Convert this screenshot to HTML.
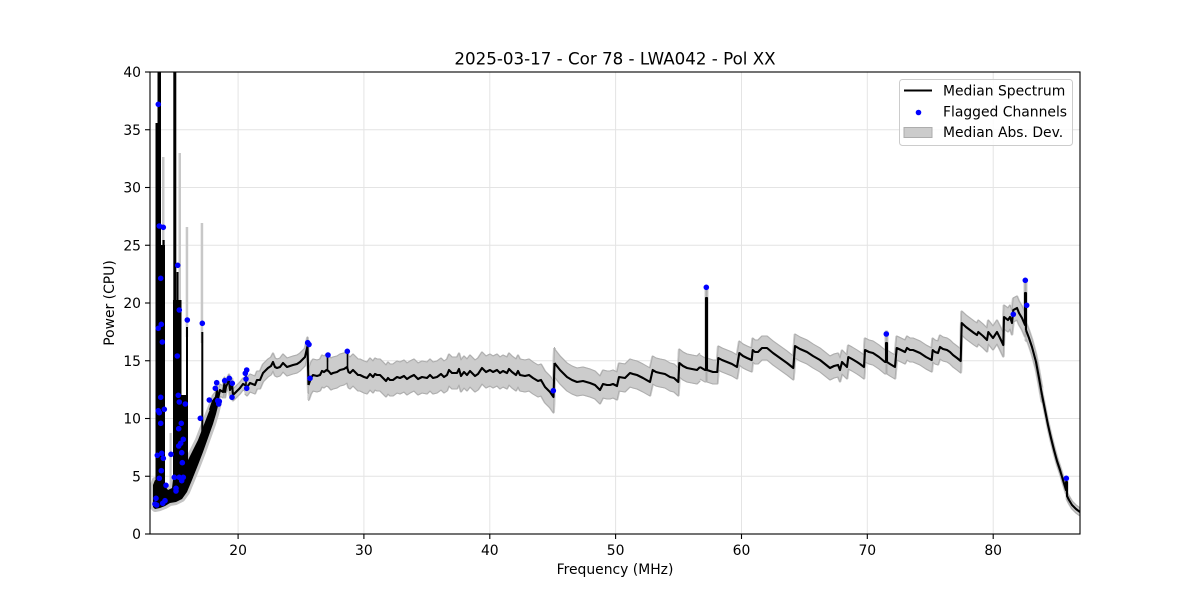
<!DOCTYPE html>
<html><head><meta charset="utf-8"><style>
html,body{margin:0;padding:0;background:#fff;}
svg{display:block;font-family:"DejaVu Sans","Liberation Sans",sans-serif;}
</style></head><body>
<svg width="1200" height="600" viewBox="0 0 1200 600" xmlns="http://www.w3.org/2000/svg">
<defs>
<clipPath id="cp"><rect x="150" y="72" width="930" height="462"/></clipPath>
<polyline id="s1" points="210,410 213,401 216,397 217,390 218,399 220,390 223,392 224.5,383 225,392 226,387 229,380 230,390 232,384 233,395 236,392 240,388 243,384 245,385"/>
<polyline id="s2" points="245,385 247,387 250,383 255,385 257,380 260,380 263,373 266,370 268,368 271,366 273,362 275,367 277,368 280,367 283,363 287,367 290,366 293,365 297,364 300,362 303,359 305,357 307.5,346 308.5,385"/>
<polyline id="s3" points="308.5,385 311,378 313,375 317,376 320,375 322,371 324,372 326.5,370 328.5,371 331,374 333,373 337,372 340,370 344,369 347,367 348.5,372 350,373 353,370 355,372 358,375 360,375 364,377 367,378 370,374 373,377 375,374 377,375 380,375 383,378 386,381 388,378 390,380 393,380 397,377 400,378 404,376 407,379 410,377 414,375 418,379 422,377 427,378 430,375 433,378 437,377 441,374 444,377 447,375 449,370 452,373 457,373 459,369 461,376 464,372 467,375 470,371 472,373 475,376 478,374 482,368 486,372 490,370 493,372 497,370 500,373 503,371 507,373 509,369 512,372 516,375 518,371 520,375 525,376 529,375 533,378 538,381 541,380 545,387 550,392 553.5,397 554.5,363"/>
<polyline id="s4" points="554.5,363 560,370 567,377 572,380 577,382 583,381 590,383 595,385 600,390 603,384 607,385 610,385 613,384 617,386 619,377 625,378 630,373 633,374 637,375 643,378 650,382 652.7,370 656,372 660,373 665,374 670,377 674,378 678.3,382 679.3,363 683,366 687,368 692,369 697,370 700,367"/>
<polyline id="s5" points="700,367 705,370 706,370 706,298 707,298 707,370 710,371 713,372 717.3,372 718.3,358 722,360 727,362 732,364 737,367 739.3,353 743,356 747,358 751.7,360 752.7,350 755,352 758,352 762,348 767,348 773,353 780,358 787,363 793.3,368 795,346 800,349 807,352 813,356 820,360 825,364 830,368 834,366 838,365 840,370 842,362 847,367 848.3,357 852,359 857,362 860,364 864,367 865,350 869,352 873,353 879,357 885,362 886,362 886,343 887,343 887,362 890,364 895,367 896.7,348 901,350 905,352 907,348 910,350 913,350 920,353 926,357 931.7,360 932.7,350 935,352 938,353 940,347 943,349 947,350 950,352 953,355 957,358 960.7,361 961.7,323 966,327 970,330 974,333 977,335 978.3,332 983,336 987,340 988.3,332 993,338 995,335 997,332 1000,338 1003.3,345 1004,317 1008,320 1010,317 1012,323 1013.3,310 1017,308 1019,313 1022,318 1025,325 1025,293 1026,293 1026,330"/>
<polyline id="s6" points="1026,330 1029,338 1032,347 1036,362 1039,378 1042,395"/>
<polyline id="s7" points="1042,395 1045,410 1048,425 1051,438 1054,450 1057,461 1060,470 1063,480 1066,490 1066,482 1067,482 1067,496 1069,500 1072,505 1076,509 1080,512"/>
</defs>

<!-- grid -->
<g stroke="#e4e4e4" stroke-width="1">
<line x1="238.1" y1="72" x2="238.1" y2="534"/>
<line x1="363.9" y1="72" x2="363.9" y2="534"/>
<line x1="489.8" y1="72" x2="489.8" y2="534"/>
<line x1="615.6" y1="72" x2="615.6" y2="534"/>
<line x1="741.5" y1="72" x2="741.5" y2="534"/>
<line x1="867.3" y1="72" x2="867.3" y2="534"/>
<line x1="993.2" y1="72" x2="993.2" y2="534"/>
<line x1="150" y1="476.25" x2="1080" y2="476.25"/>
<line x1="150" y1="418.5" x2="1080" y2="418.5"/>
<line x1="150" y1="360.75" x2="1080" y2="360.75"/>
<line x1="150" y1="303" x2="1080" y2="303"/>
<line x1="150" y1="245.25" x2="1080" y2="245.25"/>
<line x1="150" y1="187.5" x2="1080" y2="187.5"/>
<line x1="150" y1="129.75" x2="1080" y2="129.75"/>
</g>

<g clip-path="url(#cp)">
<!-- band fill -->
<g fill="none" stroke="#cccccc" stroke-width="3" stroke-linejoin="round">
<use href="#s1" transform="translate(0,-5)"/><use href="#s1" transform="translate(0,-3)"/><use href="#s1" transform="translate(0,-1)"/><use href="#s1" transform="translate(0,1)"/><use href="#s1" transform="translate(0,3)"/><use href="#s1" transform="translate(0,5)"/>
<use href="#s2" transform="translate(0,-8)"/><use href="#s2" transform="translate(0,-6)"/><use href="#s2" transform="translate(0,-4)"/><use href="#s2" transform="translate(0,-2)"/><use href="#s2"/><use href="#s2" transform="translate(0,2)"/><use href="#s2" transform="translate(0,4)"/><use href="#s2" transform="translate(0,6)"/><use href="#s2" transform="translate(0,8)"/>
<use href="#s3" transform="translate(0,-15)"/><use href="#s3" transform="translate(0,-13)"/><use href="#s3" transform="translate(0,-11)"/><use href="#s3" transform="translate(0,-9)"/><use href="#s3" transform="translate(0,-7)"/><use href="#s3" transform="translate(0,-5)"/><use href="#s3" transform="translate(0,-3)"/><use href="#s3" transform="translate(0,-1)"/><use href="#s3" transform="translate(0,1)"/><use href="#s3" transform="translate(0,3)"/><use href="#s3" transform="translate(0,5)"/><use href="#s3" transform="translate(0,7)"/><use href="#s3" transform="translate(0,9)"/><use href="#s3" transform="translate(0,11)"/><use href="#s3" transform="translate(0,13)"/><use href="#s3" transform="translate(0,15)"/>
<use href="#s4" transform="translate(0,-13)"/><use href="#s4" transform="translate(0,-11)"/><use href="#s4" transform="translate(0,-9)"/><use href="#s4" transform="translate(0,-7)"/><use href="#s4" transform="translate(0,-5)"/><use href="#s4" transform="translate(0,-3)"/><use href="#s4" transform="translate(0,-1)"/><use href="#s4" transform="translate(0,1)"/><use href="#s4" transform="translate(0,3)"/><use href="#s4" transform="translate(0,5)"/><use href="#s4" transform="translate(0,7)"/><use href="#s4" transform="translate(0,9)"/><use href="#s4" transform="translate(0,11)"/><use href="#s4" transform="translate(0,13)"/>
<use href="#s5" transform="translate(0,-11)"/><use href="#s5" transform="translate(0,-9)"/><use href="#s5" transform="translate(0,-7)"/><use href="#s5" transform="translate(0,-5)"/><use href="#s5" transform="translate(0,-3)"/><use href="#s5" transform="translate(0,-1)"/><use href="#s5" transform="translate(0,1)"/><use href="#s5" transform="translate(0,3)"/><use href="#s5" transform="translate(0,5)"/><use href="#s5" transform="translate(0,7)"/><use href="#s5" transform="translate(0,9)"/><use href="#s5" transform="translate(0,11)"/>
<use href="#s6" transform="translate(0,-7)"/><use href="#s6" transform="translate(0,-5)"/><use href="#s6" transform="translate(0,-3)"/><use href="#s6" transform="translate(0,-1)"/><use href="#s6" transform="translate(0,1)"/><use href="#s6" transform="translate(0,3)"/><use href="#s6" transform="translate(0,5)"/><use href="#s6" transform="translate(0,7)"/>
<use href="#s7" transform="translate(0,-3)"/><use href="#s7" transform="translate(0,-1)"/><use href="#s7" transform="translate(0,1)"/><use href="#s7" transform="translate(0,3)"/>
</g>
<!-- band edges -->
<g fill="none" stroke="#adadad" stroke-width="1" stroke-linejoin="round">
<use href="#s1" transform="translate(0,-6)"/><use href="#s1" transform="translate(0,6)"/>
<use href="#s2" transform="translate(0,-9)"/><use href="#s2" transform="translate(0,9)"/>
<use href="#s3" transform="translate(0,-16)"/><use href="#s3" transform="translate(0,16)"/>
<use href="#s4" transform="translate(0,-14)"/><use href="#s4" transform="translate(0,14)"/>
<use href="#s5" transform="translate(0,-12)"/><use href="#s5" transform="translate(0,12)"/>
<use href="#s6" transform="translate(0,-8)"/><use href="#s6" transform="translate(0,8)"/>
<use href="#s7" transform="translate(0,-4)"/><use href="#s7" transform="translate(0,4)"/>
</g>

<!-- small spikes grey -->
<g stroke="#c4c4c4" stroke-width="3">
<line x1="246" y1="368" x2="246" y2="386"/>
<line x1="327.5" y1="353" x2="327.5" y2="362"/>
<line x1="347.5" y1="349" x2="347.5" y2="360"/>
</g>

<!-- left region: grey spikes -->
<g fill="#c8c8c8">
<rect x="162" y="157" width="2.5" height="100"/>
<rect x="178.5" y="153" width="2.5" height="180"/>
<rect x="169.5" y="433" width="2.2" height="60"/>
<rect x="185.7" y="227" width="2.5" height="110"/>
<rect x="200.7" y="223" width="2.5" height="120"/>
</g>
<polygon points="153,507 153,485 155,480 165,486 168,490 172,488 173,480 187,462 192,452 198,440 203,427 208,414 212,404 215,398 219,402 216,414 213,424 208,438 203,452 198,465 192,480 187,492 182,499 176,502 170,503 165,506 160,508 155,509" fill="#c4c4c4" stroke="#c4c4c4" stroke-width="6" stroke-linejoin="round"/>
<polygon points="153,507 153,485 155,480 165,486 168,490 172,488 173,480 187,462 192,452 198,440 203,427 208,414 212,404 215,398 219,402 216,414 213,424 208,438 203,452 198,465 192,480 187,492 182,499 176,502 170,503 165,506 160,508 155,509" fill="#000"/>
<g fill="#000">
<rect x="157.5" y="60" width="3.5" height="445"/>
<rect x="155.5" y="123" width="2" height="382"/>
<rect x="155.5" y="245" width="9.5" height="260"/>
<rect x="162.5" y="240" width="2.2" height="265"/>
<rect x="173.3" y="60" width="3" height="437"/>
<rect x="173" y="300" width="8.5" height="195"/>
<rect x="176.5" y="272" width="2" height="220"/>
<rect x="178.8" y="300" width="2" height="190"/>
<rect x="181" y="395" width="6" height="95"/>
<rect x="186" y="327" width="2" height="150"/>
<rect x="201.3" y="332" width="2" height="110"/>
</g>

<!-- median line -->
<g fill="none" stroke="#000" stroke-width="2.1" stroke-linejoin="round">
<use href="#s1"/><use href="#s2"/><use href="#s3"/><use href="#s4"/><use href="#s5"/><use href="#s6"/><use href="#s7"/>
</g>
<g stroke="#000" stroke-width="1.6">
<line x1="246" y1="372" x2="246" y2="386"/>
<line x1="327.5" y1="357" x2="327.5" y2="371"/>
<line x1="347.5" y1="353" x2="347.5" y2="368"/>
</g>

<!-- flagged channels -->
<g fill="#0000ff">
<circle cx="158.3" cy="104.3" r="2.8"/><circle cx="159.3" cy="226" r="2.8"/><circle cx="163.3" cy="227.3" r="2.8"/><circle cx="160.7" cy="278.3" r="2.8"/><circle cx="158.3" cy="328.3" r="2.8"/><circle cx="161.3" cy="324.3" r="2.8"/><circle cx="162.3" cy="342" r="2.8"/><circle cx="160.7" cy="397.3" r="2.8"/><circle cx="158.3" cy="410.7" r="2.8"/><circle cx="159.3" cy="412.7" r="2.8"/><circle cx="164.3" cy="409.3" r="2.8"/><circle cx="160.7" cy="423.3" r="2.8"/><circle cx="157.3" cy="455.3" r="2.8"/><circle cx="161.7" cy="453.3" r="2.8"/><circle cx="163.3" cy="458.3" r="2.8"/><circle cx="161.3" cy="470.7" r="2.8"/><circle cx="159.3" cy="478.3" r="2.8"/><circle cx="166" cy="485.3" r="2.8"/><circle cx="156" cy="498.3" r="2.8"/><circle cx="155" cy="504" r="2.8"/><circle cx="156.7" cy="505" r="2.8"/><circle cx="162.7" cy="503.3" r="2.8"/><circle cx="165" cy="500.7" r="2.8"/><circle cx="171" cy="454.3" r="2.8"/><circle cx="174.3" cy="477.3" r="2.8"/><circle cx="176" cy="488.3" r="2.8"/><circle cx="176" cy="491" r="2.8"/><circle cx="177.7" cy="265.3" r="2.8"/><circle cx="179.3" cy="310" r="2.8"/><circle cx="187.3" cy="320" r="2.8"/><circle cx="177.3" cy="356" r="2.8"/><circle cx="178.3" cy="395.3" r="2.8"/><circle cx="179.3" cy="402" r="2.8"/><circle cx="185.3" cy="404" r="2.8"/><circle cx="181.3" cy="423.3" r="2.8"/><circle cx="178.7" cy="428.7" r="2.8"/><circle cx="183.3" cy="439.3" r="2.8"/><circle cx="178.7" cy="446" r="2.8"/><circle cx="180.7" cy="443.3" r="2.8"/><circle cx="181.7" cy="452.7" r="2.8"/><circle cx="182.3" cy="462.7" r="2.8"/><circle cx="179.3" cy="477.3" r="2.8"/><circle cx="181.7" cy="480.7" r="2.8"/><circle cx="183.3" cy="477.3" r="2.8"/><circle cx="202.3" cy="323.3" r="2.8"/><circle cx="200.3" cy="418.3" r="2.8"/><circle cx="209.3" cy="400" r="2.8"/><circle cx="215.3" cy="388.3" r="2.8"/><circle cx="216.7" cy="382.7" r="2.8"/><circle cx="217.7" cy="400.7" r="2.8"/><circle cx="219.3" cy="401.3" r="2.8"/><circle cx="218.7" cy="404" r="2.8"/><circle cx="224.7" cy="380.7" r="2.8"/><circle cx="229.3" cy="378.3" r="2.8"/><circle cx="232.3" cy="383.3" r="2.8"/><circle cx="232" cy="397.3" r="2.8"/><circle cx="246.7" cy="370" r="2.8"/><circle cx="245.3" cy="373.3" r="2.8"/><circle cx="246" cy="379" r="2.8"/><circle cx="246.7" cy="388.3" r="2.8"/><circle cx="307.7" cy="342.7" r="2.8"/><circle cx="309" cy="344.5" r="2.8"/><circle cx="310" cy="378.3" r="2.8"/><circle cx="328" cy="355" r="2.8"/><circle cx="347.3" cy="351.3" r="2.8"/><circle cx="553.3" cy="390.7" r="2.8"/><circle cx="706.3" cy="287.3" r="2.8"/><circle cx="886.3" cy="334" r="2.8"/><circle cx="1013.3" cy="314.3" r="2.8"/><circle cx="1025.3" cy="280.3" r="2.8"/><circle cx="1026.7" cy="305.3" r="2.8"/><circle cx="1066.3" cy="478.3" r="2.8"/>
</g>
</g>

<!-- axes box -->
<rect x="150" y="72" width="930" height="462" fill="none" stroke="#000" stroke-width="1.1"/>

<!-- ticks -->
<g stroke="#000" stroke-width="1.1">
<line x1="238.1" y1="534" x2="238.1" y2="539"/><line x1="363.9" y1="534" x2="363.9" y2="539"/><line x1="489.8" y1="534" x2="489.8" y2="539"/><line x1="615.6" y1="534" x2="615.6" y2="539"/><line x1="741.5" y1="534" x2="741.5" y2="539"/><line x1="867.3" y1="534" x2="867.3" y2="539"/><line x1="993.2" y1="534" x2="993.2" y2="539"/>
<line x1="145" y1="534" x2="150" y2="534"/><line x1="145" y1="476.25" x2="150" y2="476.25"/><line x1="145" y1="418.5" x2="150" y2="418.5"/><line x1="145" y1="360.75" x2="150" y2="360.75"/><line x1="145" y1="303" x2="150" y2="303"/><line x1="145" y1="245.25" x2="150" y2="245.25"/><line x1="145" y1="187.5" x2="150" y2="187.5"/><line x1="145" y1="129.75" x2="150" y2="129.75"/><line x1="145" y1="72" x2="150" y2="72"/>
</g>

<g font-size="13.9" fill="#000">
<g text-anchor="middle">
<text x="238.1" y="555">20</text><text x="363.9" y="555">30</text><text x="489.8" y="555">40</text><text x="615.6" y="555">50</text><text x="741.5" y="555">60</text><text x="867.3" y="555">70</text><text x="993.2" y="555">80</text>
</g>
<g text-anchor="end">
<text x="141" y="539">0</text><text x="141" y="481.25">5</text><text x="141" y="423.5">10</text><text x="141" y="365.75">15</text><text x="141" y="308">20</text><text x="141" y="250.25">25</text><text x="141" y="192.5">30</text><text x="141" y="134.75">35</text><text x="141" y="77">40</text>
</g>
<text x="615" y="574" text-anchor="middle">Frequency (MHz)</text>
<text transform="translate(114,303) rotate(-90)" text-anchor="middle">Power (CPU)</text>
</g>
<text x="615" y="64.5" text-anchor="middle" font-size="16.7" fill="#000">2025-03-17 - Cor 78 - LWA042 - Pol XX</text>

<!-- legend -->
<rect x="899.5" y="79.5" width="173" height="66" rx="3" ry="3" fill="#fff" fill-opacity="0.8" stroke="#cccccc" stroke-width="1"/>
<line x1="904" y1="90.5" x2="932" y2="90.5" stroke="#000" stroke-width="2.1"/>
<circle cx="918.5" cy="112.5" r="2.8" fill="#0000ff"/>
<rect x="904" y="127.5" width="28" height="10" fill="#cccccc" stroke="#adadad" stroke-width="1"/>
<g font-size="13.9" fill="#000">
<text x="943" y="95.5">Median Spectrum</text>
<text x="943" y="116.5">Flagged Channels</text>
<text x="943" y="137">Median Abs. Dev.</text>
</g>
</svg>
</body></html>
